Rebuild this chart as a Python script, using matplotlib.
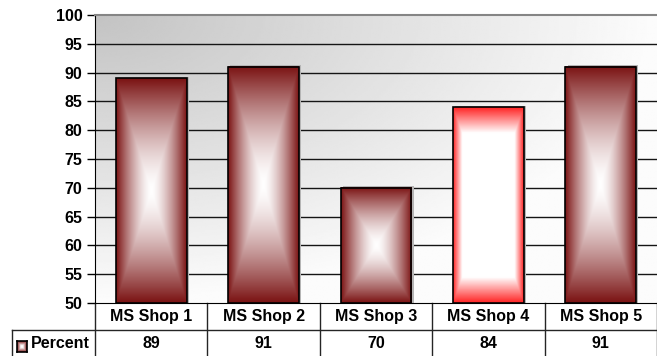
import numpy as np
import matplotlib
matplotlib.use('Agg')
import matplotlib.pyplot as plt
from matplotlib.colors import to_rgb
from matplotlib.transforms import blended_transform_factory

# data
shops = ['MS Shop 1', 'MS Shop 2', 'MS Shop 3', 'MS Shop 4', 'MS Shop 5']
percent = [89, 91, 70, 84, 91]
series_name = 'Percent'
y_ticks = list(range(50, 101, 5))

# styles
bar_edge = ['#7a1212', '#7a1212', '#7a1212', '#ff2424', '#7a1212']
bar_inner = [0.0, 0.0, 0.0, 0.74, 0.0]
FS = 11.5

plt.rcParams['font.family'] = ['Liberation Sans', 'DejaVu Sans']
plt.rcParams['font.weight'] = 'bold'

W, H = 657, 356
L, R, T, B = 95, 657, 15, 303
fig = plt.figure(figsize=(W / 100, H / 100), dpi=100)
ax = fig.add_axes([L / W, 1 - B / H, (R - L) / W, (B - T) / H])


def rect_gradient(edge, inner=0.0, gamma=1.0, n=240):
    d = np.linspace(-1, 1, n)
    t = np.maximum(np.abs(d)[None, :], np.abs(d)[:, None])
    t = np.clip((t - inner) / (1 - inner), 0, 1) ** gamma
    white = np.array([1.0, 1.0, 1.0])
    c = np.array(to_rgb(edge))
    return white * (1 - t[..., None]) + c * t[..., None]


# plot background: grey in the top-left corner fading to white
u = np.linspace(0, 1, 300)[None, :]
w = np.linspace(0, 1, 200)[:, None]
bg = (195 + 57 * np.clip(np.sqrt(u ** 2 + w ** 2), 0, 1)) / 255
ax.imshow(bg, extent=[-0.5, 4.5, 50, 100], aspect='auto', cmap='gray',
          vmin=0, vmax=1, zorder=0, interpolation='bilinear')

ax.hlines(y_ticks[1:-1], -0.5, 4.5, color='#151515', lw=1, zorder=1)

x = np.arange(len(shops))
bw = 0.63
vals = np.array(percent)
# shadow
ax.bar(x + 0.02, vals - 50 + 0.25, bottom=50, width=bw, color='#b5b5b5',
       zorder=2)
for i, v in enumerate(percent):
    g = rect_gradient(bar_edge[i], bar_inner[i], 1.0 if bar_inner[i] else 1.5)
    ax.imshow(g, extent=[i - bw / 2, i + bw / 2, 50, v], aspect='auto',
              zorder=3, interpolation='bilinear')
ax.bar(x, vals - 50, bottom=50, width=bw, fill=False, edgecolor='black',
       lw=1.2, zorder=4)

ax.set_xlim(-0.5, 4.5)
ax.set_ylim(50, 100)
ax.set_yticks(y_ticks)
ax.set_xticks([])
ax.tick_params(axis='y', length=6, width=1, pad=3, labelsize=FS)
ax.spines['right'].set_visible(False)
ax.spines['top'].set_color('#858585')
ax.spines['top'].set_linewidth(1.5)
ax.spines['left'].set_color('black')
ax.spines['bottom'].set_color('black')

# data table below the axes
trans = blended_transform_factory(ax.transData, ax.transAxes)


def py(ypix):
    return (B - ypix) / (B - T)


def px(xpix):
    return (xpix - L) / (R - L)


line_kw = dict(color='#252525', lw=1, clip_on=False)
for k in range(len(shops) + 1):
    ax.plot([k - 0.5, k - 0.5], [py(303), py(357)], transform=trans, **line_kw)
ax.plot([px(12), 1], [py(330), py(330)], transform=ax.transAxes, **line_kw)
ax.plot([px(12), px(12)], [py(330), py(357)], transform=ax.transAxes, **line_kw)

for i, (s, v) in enumerate(zip(shops, percent)):
    ax.text(i, py(317), s, transform=trans, ha='center', va='center',
            fontsize=FS, fontweight='bold')
    ax.text(i, py(344), str(v), transform=trans, ha='center', va='center',
            fontsize=FS, fontweight='bold')

ax.text(px(31), py(344), series_name, transform=ax.transAxes, ha='left',
        va='center', fontsize=FS, fontweight='bold')

# legend key
lk = fig.add_axes([17 / W, 1 - 352 / H, 10 / W, 11 / H])
lk.imshow(rect_gradient('#7a1212', 0.2), aspect='auto', interpolation='bilinear')
lk.set_xticks([])
lk.set_yticks([])
for s in lk.spines.values():
    s.set_linewidth(1.2)

fig.savefig('out.png', dpi=100)
